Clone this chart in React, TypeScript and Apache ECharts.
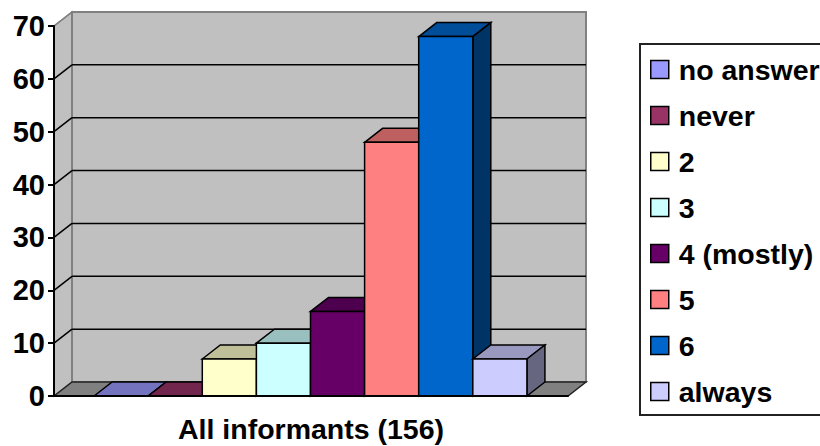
import React, { useEffect, useRef } from "react";
import * as echarts from "echarts";

const categories = ["All informants (156)"];
const seriesNames = ["no answer", "never", "2", "3", "4 (mostly)", "5", "6", "always"];
const seriesValues = [0, 0, 7, 10, 16, 48, 68, 7];
const seriesColors = ["#9999ff", "#993366", "#ffffcc", "#ccffff", "#660066", "#ff8080", "#0066cc", "#ccccff"];
const tickValues = [10, 20, 30, 40, 50, 60, 70];

const FONT = "'Liberation Sans', Arial, sans-serif";
// Offset of the chart's back plane from its front plane.
const DEPTH_X = 18;
const DEPTH_Y = 14;
// Excel-style column spacing: 150% gap split over both sides of the cluster.
const GAP_RATIO = 1.5;

function shade(hex: string, k: number) {
  const n = parseInt(hex.slice(1), 16);
  const c = [(n >> 16) & 255, (n >> 8) & 255, n & 255].map((v) => Math.round(v * k));
  return `rgb(${c[0]},${c[1]},${c[2]})`;
}

function poly(points: number[][], fill: string, stroke: string, lineWidth = 1.5) {
  return { type: "polygon", shape: { points }, style: { fill, stroke, lineWidth, lineJoin: "miter" } };
}

function line(x1: number, y1: number, x2: number, y2: number, stroke: string, lineWidth = 1.5) {
  return { type: "line", shape: { x1, y1, x2, y2 }, style: { stroke, lineWidth } };
}

// Walls and floor of the 3D box, placed from the axis extents.
function renderWalls(_: any, api: any) {
  const [cx, y0] = api.coord([0, 0]);
  const [, yTop] = api.coord([0, 70]);
  const band = api.size([1, 0])[0];
  const l = cx - band / 2;
  const r = cx + band / 2;
  const bl = l + DEPTH_X;
  const br = r + DEPTH_X;
  return {
    type: "group",
    children: [
      poly([[l, y0], [bl, y0 - DEPTH_Y], [bl, yTop - DEPTH_Y], [l, yTop]], "#c0c0c0", "#808080"),
      poly([[bl, y0 - DEPTH_Y], [bl, yTop - DEPTH_Y], [br, yTop - DEPTH_Y], [br, y0 - DEPTH_Y]], "#c0c0c0", "#808080", 2),
      poly([[l, y0], [bl, y0 - DEPTH_Y], [br, y0 - DEPTH_Y], [r, y0]], "#808080", "#222222"),
    ],
  };
}

// One gridline: diagonal on the side wall, then straight across the back wall.
function renderGridline(_: any, api: any) {
  const [cx, y] = api.coord([0, api.value(1)]);
  const band = api.size([1, 0])[0];
  const l = cx - band / 2;
  const r = cx + band / 2;
  const isTop = api.value(1) === 70;
  const stroke = isTop ? "#808080" : "#000000";
  const children = [line(l, y, l + DEPTH_X, y - DEPTH_Y, stroke)];
  if (!isTop) children.push(line(l + DEPTH_X, y - DEPTH_Y, r + DEPTH_X, y - DEPTH_Y, stroke));
  return { type: "group", children };
}

function renderColumn(index: number, color: string) {
  return (_: any, api: any) => {
    const value = api.value(1);
    const [cx, yv] = api.coord([0, value]);
    const [, y0] = api.coord([0, 0]);
    const band = api.size([1, 0])[0];
    const w = band / (seriesValues.length + GAP_RATIO);
    const x1 = cx - band / 2 + (GAP_RATIO / 2 + index) * w - 0.5;
    const x2 = x1 + w;
    return {
      type: "group",
      children: [
        poly([[x1, yv], [x1 + DEPTH_X, yv - DEPTH_Y], [x2 + DEPTH_X, yv - DEPTH_Y], [x2, yv]], shade(color, 0.75), "#000"),
        poly([[x2, yv], [x2 + DEPTH_X, yv - DEPTH_Y], [x2 + DEPTH_X, y0 - DEPTH_Y], [x2, y0]], shade(color, 0.5), "#000"),
        poly([[x1, yv], [x2, yv], [x2, y0], [x1, y0]], color, "#000"),
      ],
    };
  };
}

export default function App() {
  const ref = useRef<HTMLDivElement>(null);

  useEffect(() => {
    const chart = echarts.init(ref.current!, undefined, { renderer: "svg" });
    const axisStroke = { color: "#000", width: 2 };
    chart.setOption({
      animation: false,
      backgroundColor: "#fff",
      textStyle: { fontFamily: FONT },
      grid: { left: 54, top: 26, width: 514, height: 370 },
      xAxis: {
        type: "category",
        data: categories,
        z: 10,
        axisLine: { lineStyle: axisStroke },
        axisTick: { length: 7, lineStyle: axisStroke },
        axisLabel: { margin: 18, color: "#000", fontFamily: FONT, fontWeight: "bold", fontSize: 28.5 },
      },
      yAxis: {
        type: "value",
        min: 0,
        max: 70,
        interval: 10,
        z: 10,
        axisLine: { show: true, lineStyle: axisStroke },
        axisTick: { show: true, length: 6, lineStyle: axisStroke },
        splitLine: { show: false },
        axisLabel: { margin: 9, padding: [2, 0, 0, 0], color: "#000", fontFamily: FONT, fontWeight: "bold", fontSize: 29 },
      },
      legend: {
        orient: "vertical",
        left: 640,
        top: 44,
        padding: [11, 12, 9, 10],
        itemWidth: 18,
        itemHeight: 18,
        itemGap: 17,
        borderColor: "#222",
        borderWidth: 2,
        backgroundColor: "#fff",
        selectedMode: false,
        textStyle: { color: "#000", fontFamily: FONT, fontWeight: "bold", fontSize: 28.5, padding: [0, 0, 0, 5] },
        data: seriesNames.map((name, i) => ({
          name,
          icon: "rect",
          itemStyle: { color: seriesColors[i], borderColor: "#000", borderWidth: 1.5 },
        })),
      },
      series: [
        {
          type: "custom",
          name: "walls",
          z: 1,
          renderItem: renderWalls,
          data: [[categories[0], 0]],
          encode: { x: 0, y: 1 },
          silent: true,
        },
        {
          type: "custom",
          name: "gridlines",
          z: 2,
          renderItem: renderGridline,
          data: tickValues.map((v) => [categories[0], v]),
          encode: { x: 0, y: 1 },
          silent: true,
        },
        ...seriesNames.map((name, i) => ({
          type: "custom",
          name,
          z: 3,
          renderItem: renderColumn(i, seriesColors[i]),
          itemStyle: { color: seriesColors[i] },
          data: [[categories[0], seriesValues[i]]],
          encode: { x: 0, y: 1 },
        })),
      ],
    });
    return () => chart.dispose();
  }, []);

  return <div ref={ref} style={{ position: "fixed", left: 0, top: 0, width: 820, height: 446 }} />;
}
